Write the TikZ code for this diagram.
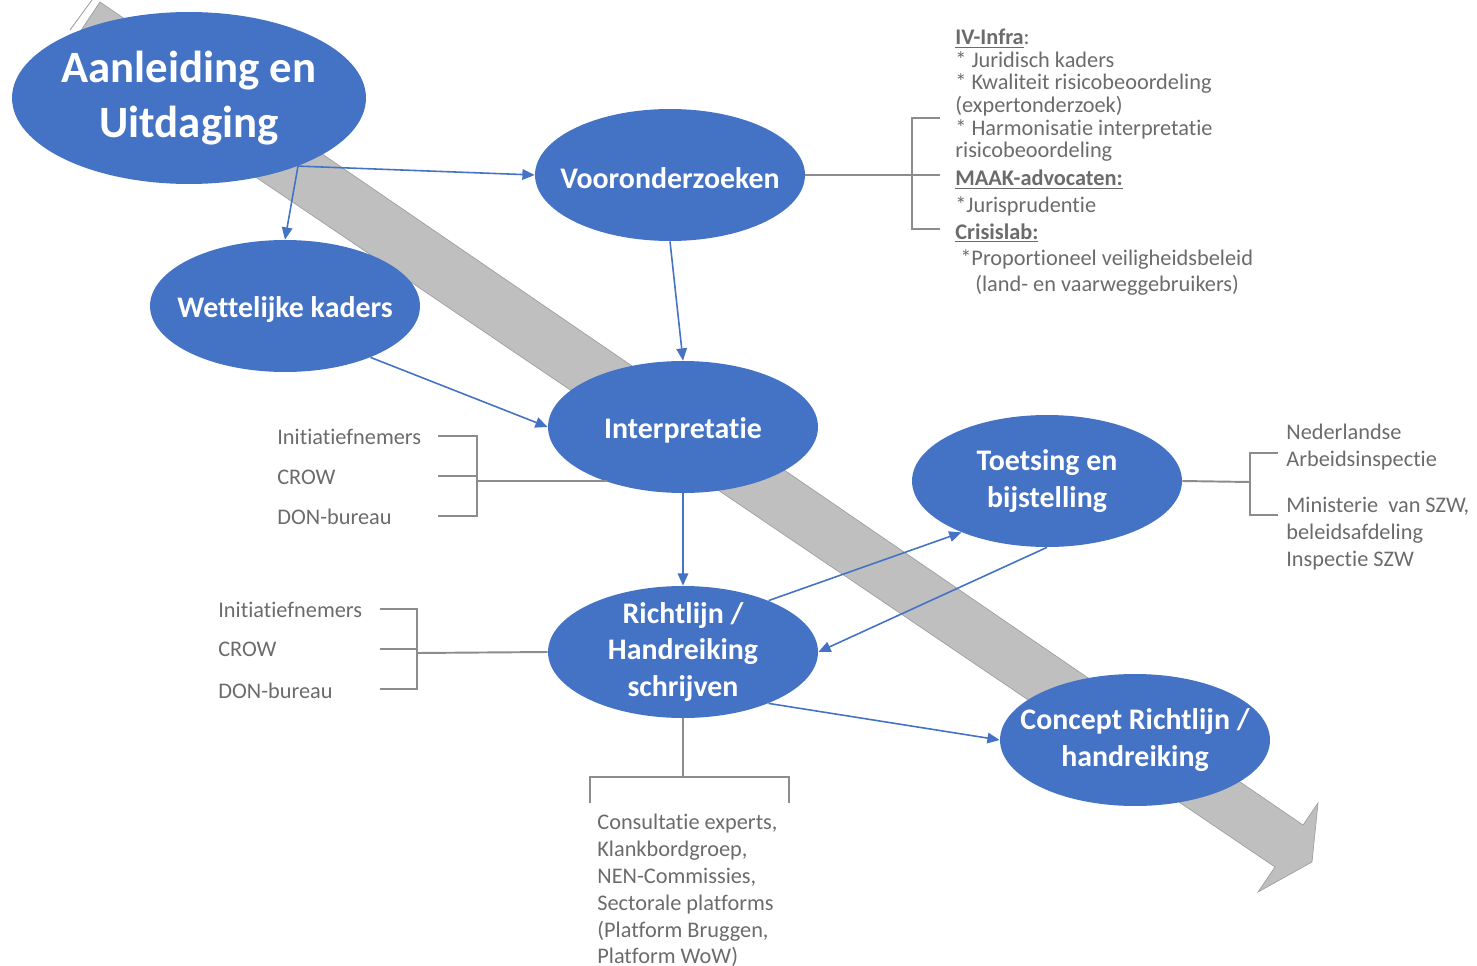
\documentclass[tikz,border=0pt]{standalone}
\usepackage{fontspec}
\setmainfont{Carlito}[Ligatures=NoCommon]
\usetikzlibrary{shapes.geometric,arrows.meta}

\definecolor{phaseblue}{HTML}{4472C4}
\definecolor{notegray}{HTML}{6B6B6B}
\definecolor{brkgray}{HTML}{8C8C8C}
\definecolor{shaftgray}{HTML}{BFBFBF}
\definecolor{shaftedge}{HTML}{A0A0A0}

\tikzset{
  phase/.style={ellipse, fill=phaseblue, text=white, inner sep=-12pt,
    minimum width=5.4cm, minimum height=2.64cm, align=center,
    execute at begin node=\rule{0pt}{0.92em},
    font=\fontsize{17}{20.7}\selectfont\bfseries},
  flow/.style={draw=phaseblue, line width=0.9pt, -{Triangle[length=7pt,width=6pt]}},
  brk/.style={draw=brkgray, line width=1.1pt},
  note/.style={text=notegray, inner sep=0pt, anchor=base west,
    font=\fontsize{12.7}{15}\selectfont},
}

\begin{document}
\begin{tikzpicture}[x=0.02cm, y=-0.02cm]
            \useasboundingbox (0,0) rectangle (1477,966);

            % big gray arrow behind everything
            \fill[shaftgray, draw=shaftedge, line width=0.4pt] (100,2) -- (1303,825) -- (1318,803) -- (1312,862)
                -- (1258,892) -- (1275,867) -- (68,50) -- cycle;
            \draw[shaftedge, line width=0.5pt] (92,0) -- (70,30);

            % phases
            \node[phase, minimum width=7.08cm, minimum height=3.44cm, execute at begin node=\rule{0pt}{1.1em},
                font=\fontsize{25.5}{31}\selectfont\bfseries] (aan) at (189,98) {Aanleiding en\\Uitdaging};
            \node[phase, execute at begin node=\relax] (voor) at (670,175) {Vooronderzoeken};
            \node[phase] (wett) at (285,306) {Wettelijke kaders};
            \node[phase] (interp) at (683,427) {Interpretatie};
            \node[phase] (toets) at (1047,481) {Toetsing en\\bijstelling};
            \node[phase] (richt) at (683,652) {Richtlijn /\\Handreiking\\schrijven};
            \node[phase] (concept) at (1135,740) {Concept Richtlijn /\\handreiking};

            % flows
            \coordinate (split) at (aan.-32);
            \draw[flow] (split) -- (voor.west);
            \draw[flow] (split) -- (wett.north);
            \draw[flow] (voor.south) -- (interp.north);
            \draw[flow] (wett.-31) -- (interp.west);
            \draw[flow] (interp.south) -- (richt.north);
            \draw[flow] (richt.31) -- (toets.211);
            \draw[flow] (toets.south) -- (richt.east);
            \draw[flow] (richt.-31) -- (concept.west);

            % brackets
            \coordinate (vbr) at (912,175);
            \draw[brk] (voor.east) -- (vbr);
            \draw[brk] (940,118) -| (vbr) |- (940,229) (vbr) -- (940,175);

            \coordinate (ibr) at (477,481);
            \draw[brk] (ibr) -- (ibr -| interp.216);
            \draw[brk] (438,436) -| (ibr) |- (438,516) (438,476) -- (477,476);

            \coordinate (rbr) at (417,653);
            \draw[brk] (richt.west) -- (rbr);
            \draw[brk] (380,609) -| (rbr) |- (380,689) (380,649) -- (417,649);

            \coordinate (bbr) at (683,777);
            \draw[brk] (richt.south) -- (bbr);
            \draw[brk] (590,803) |- (bbr) -| (789,803);

            \coordinate (tbr) at (1250,482);
            \draw[brk] (toets.east) -- (tbr);
            \draw[brk] (1278,453) -| (tbr) |- (1278,515);

            % notes
            \foreach \y/\t [count=\i] in {45/{\underline{\textbf{IV-Infra}}:}, 68/* Juridisch kaders,
                90/* Kwaliteit risicobeoordeling, 113/(expertonderzoek), 136/* Harmonisatie interpretatie,
                158/risicobeoordeling, 186/{\underline{\textbf{MAAK-advocaten:}}}, 213/*Jurisprudentie,
                239/{\underline{\textbf{Crisislab:}}}}
                \node[note] (va\i) at (955,\y) {\t};
            \node[note] (va10) at (960,265) {*Proportioneel veiligheidsbeleid};
            \node[note] (va11) at (975,292) {(land- en vaarweggebruikers)};

            \foreach \y/\t [count=\i] in {444/Initiatiefnemers, 484/CROW, 524/DON-bureau}
                \node[note] (ia\i) at (277,\y) {\t};
            \foreach \y/\t [count=\i] in {617/Initiatiefnemers, 656/CROW, 698/DON-bureau}
                \node[note] (ra\i) at (218,\y) {\t};
            \foreach \y/\t [count=\i] in {439/Nederlandse, 466/Arbeidsinspectie, 512/{Ministerie\ \ van SZW,},
                539/beleidsafdeling, 566/Inspectie SZW}
                \node[note] (ta\i) at (1286,\y) {\t};
            \foreach \y/\t [count=\i] in {829/{Consultatie experts,}, 856/{Klankbordgroep,}, 883/{NEN-Commissies,},
                910/Sectorale platforms, 937/{(Platform Bruggen,}, 963/Platform WoW)}
                \node[note] (ba\i) at (597,\y) {\t};
\end{tikzpicture}
\end{document}
